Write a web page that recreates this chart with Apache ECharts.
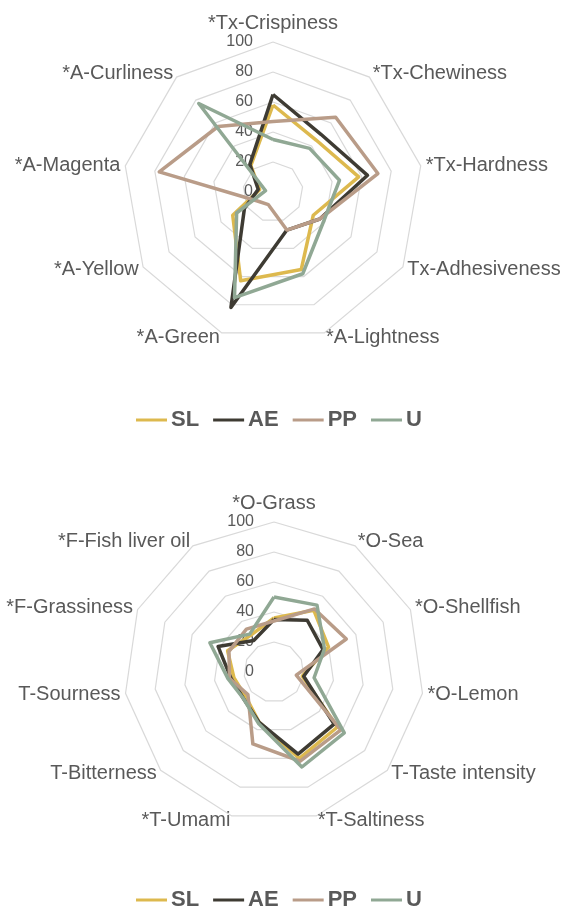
<!DOCTYPE html>
<html>
<head>
<meta charset="utf-8">
<script src="https://cdn.jsdelivr.net/npm/echarts@6/dist/echarts.min.js"></script>
<style>
  html, body { margin: 0; padding: 0; background: #ffffff; }
  #chart { width: 568px; height: 908px; }
</style>
</head>
<body>
<div id="chart"></div>
<script>
// Sample names and colours
const sampleNames = ['SL', 'AE', 'PP', 'U'];
const sampleColors = ['#DDB94E', '#3E3B33', '#B99C88', '#90A894'];

// Texture & appearance attributes (clockwise from top)
const textureAxes = ['*Tx-Crispiness', '*Tx-Chewiness', '*Tx-Hardness', 'Tx-Adhesiveness',
  '*A-Lightness', '*A-Green', '*A-Yellow', '*A-Magenta', '*A-Curliness'];
const textureSL = [58, 45, 58, 31, 55, 63, 31, 9, 23];
const textureAE = [65, 50, 64, 36, 27, 82, 22, 10, 24];
const texturePP = [47, 65, 71, 36, 27, 9, 12, 77, 57];
const textureU  = [35, 38, 45, 39, 58, 75, 28, 5, 77];

// Odour, taste & flavour attributes (clockwise from top)
const flavourAxes = ['*O-Grass', '*O-Sea', '*O-Shellfish', '*O-Lemon', 'T-Taste intensity',
  '*T-Saltiness', '*T-Umami', 'T-Bitterness', 'T-Sourness', '*F-Grassiness', '*F-Fish liver oil'];
const flavourSL = [36, 49, 40, 19, 56, 60, 35, 25, 27, 34, 29];
const flavourAE = [35, 41, 36, 20, 53, 57, 35, 27, 29, 41, 25];
const flavourPP = [34, 50, 53, 15, 59, 62, 50, 23, 30, 33, 34];
const flavourU  = [50, 53, 37, 27, 62, 66, 36, 27, 31, 47, 30];

// Scale ticks
const scaleMax = 100;
const scaleStep = 20;

// ECharts lays radar axes out counter-clockwise; keep the first axis on top
// and reverse the rest so the attributes read clockwise.
function clockwiseOrder(arr) {
  return [arr[0]].concat(arr.slice(1).reverse());
}

function buildIndicators(names) {
  return clockwiseOrder(names).map(function (n, i) {
    const ind = { name: n, min: 0, max: scaleMax };
    if (i === 0) {
      ind.axisLabel = { show: true };
      ind.nameGap = 9;
    }
    return ind;
  });
}

function buildRadar(names, center) {
  return {
    center: center,
    radius: 150,
    startAngle: 90,
    shape: 'polygon',
    splitNumber: scaleMax / scaleStep,
    indicator: buildIndicators(names),
    nameGap: 5,
    axisName: {
      color: '#595959',
      fontSize: 20,
      fontFamily: '"Liberation Sans", Arial, sans-serif'
    },
    axisLine: { show: false },
    axisTick: { show: false },
    axisLabel: {
      show: false,
      color: '#595959',
      fontSize: 16,
      margin: 20,
      fontFamily: '"Liberation Sans", Arial, sans-serif'
    },
    splitLine: { lineStyle: { color: '#D9D9D9', width: 1.2 } },
    splitArea: { show: false }
  };
}

function buildSeries(radarIndex, groups) {
  return {
    type: 'radar',
    radarIndex: radarIndex,
    symbol: 'none',
    silent: true,
    data: groups.map(function (vals, i) {
      return {
        name: sampleNames[i],
        value: clockwiseOrder(vals),
        lineStyle: { color: sampleColors[i], width: 3.5 },
        itemStyle: { color: sampleColors[i] }
      };
    })
  };
}

function buildLegend(top) {
  return {
    top: top,
    left: 131,
    orient: 'horizontal',
    icon: 'rect',
    itemWidth: 31,
    itemHeight: 3,
    itemGap: 14,
    selectedMode: false,
    data: sampleNames,
    textStyle: {
      color: '#595959',
      fontSize: 22,
      fontWeight: 'bold',
      padding: [0, 0, 0, -1],
      fontFamily: '"Liberation Sans", Arial, sans-serif'
    }
  };
}

const chart = echarts.init(document.getElementById('chart'), null, { renderer: 'canvas' });
chart.setOption({
  backgroundColor: '#ffffff',
  animation: false,
  color: sampleColors,
  legend: [buildLegend(404), buildLegend(884)],
  radar: [
    buildRadar(textureAxes, [273, 192]),
    buildRadar(flavourAxes, [274, 672])
  ],
  series: [
    buildSeries(0, [textureSL, textureAE, texturePP, textureU]),
    buildSeries(1, [flavourSL, flavourAE, flavourPP, flavourU])
  ]
});
</script>
</body>
</html>
